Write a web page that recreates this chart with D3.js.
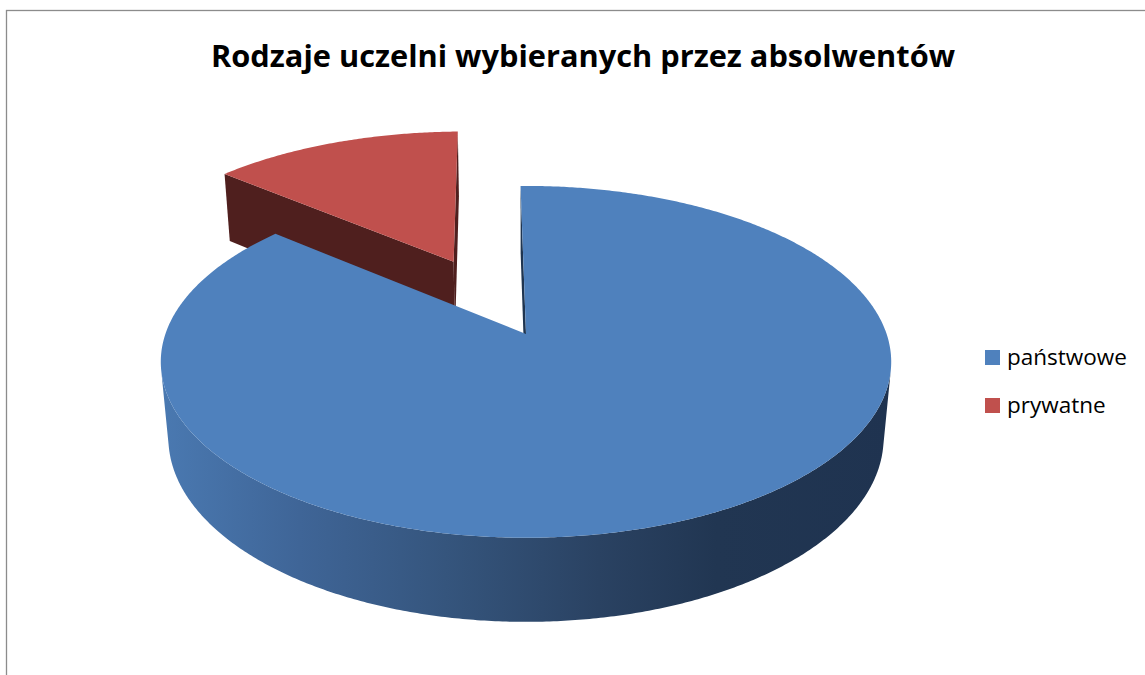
<!DOCTYPE html>
<html>
<head>
<meta charset="utf-8">
<script src="https://cdn.jsdelivr.net/npm/d3@7"></script>
<style>
  body { margin: 0; background: #fff; }
  text { font-family: "Open Sans", "Noto Sans", sans-serif; }
</style>
</head>
<body>
<script>
/* Data */
var categories = ["państwowe", "prywatne"];
var values = [86.4, 13.6];
var explode = [0, 0.5];          // explosion, in radius units
var topColors = ["#4F81BD", "#C0504D"];
var faceColors = ["#1F3550", "#4F1F1E"];
var sideStops = [
  ["#4A79B1", "#3F6597", "#35557D", "#2A4262", "#213652", "#1F3350"],
  ["#9A403D", "#7E3432", "#682A29", "#5A2423", "#4F1F1E", "#4F1F1E"]
];
var title = "Rodzaje uczelni wybieranych przez absolwentów";

/* Setup */
var width = 1145, height = 675;

var svg = d3.select("body")
    .append("svg")
    .attr("width", width)
    .attr("height", height);

// chart area border (goes past the right and bottom edges)
svg.append("rect")
    .attr("x", 6.5).attr("y", 10.5)
    .attr("width", 1200).attr("height", 700)
    .attr("fill", "#fff")
    .attr("stroke", "#8c8c8c")
    .attr("stroke-width", 1.3);

svg.append("text")
    .attr("x", 211).attr("y", 67)
    .attr("font-size", 31)
    .attr("font-weight", "bold")
    .attr("fill", "#000")
    .attr("textLength", 744)
    .attr("lengthAdjust", "spacingAndGlyphs")
    .text(title);

/* 3D projection of the pie */
var cx = 526, cy = 334;           // screen point of the pie centre
var F = 2005, D = 5.56, H = 0.242;
var tilt = 28.4 * Math.PI / 180;
var c = Math.cos(tilt), s = Math.sin(tilt);
var rot = -1 * Math.PI / 180;     // first slice starts just left of 12 o'clock

function proj(u, v, h) {
    var z = D - v * c - h * s;
    return [cx + F * u / z, cy + F * (v * s - h * c) / z];
}

var pie = d3.pie().sort(null)
    .startAngle(rot).endAngle(2 * Math.PI + rot)
    .value(function(d) { return d.value; });
var slices = pie(values.map(function(v, i) { return {name: categories[i], value: v, i: i}; }));

var line = d3.line();
var step = Math.PI / 360;

function arcPts(a0, a1, ou, ov, h) {
    var pts = [];
    var n = Math.max(2, Math.ceil((a1 - a0) / step));
    for (var k = 0; k <= n; k++) {
        var a = a0 + (a1 - a0) * k / n;
        pts.push(proj(ou + Math.sin(a), ov - Math.cos(a), h));
    }
    return pts;
}

// gradients for the outer walls
var defs = svg.append("defs");
var xl = cx - 365, xr = cx + 365;
sideStops.forEach(function(stops, i) {
    var g = defs.append("linearGradient")
        .attr("id", "side" + i)
        .attr("gradientUnits", "userSpaceOnUse")
        .attr("x1", xl).attr("x2", xr).attr("y1", 0).attr("y2", 0);
    var offs = [0, 0.19, 0.39, 0.6, 0.76, 1];
    stops.forEach(function(col, k) {
        g.append("stop").attr("offset", offs[k]).attr("stop-color", col);
    });
});

var pieG = svg.append("g").attr("class", "pie");

// back slices first (red is behind the blue one)
var order = slices.slice().sort(function(a, b) { return b.index - a.index; });

order.forEach(function(d) {
    var i = d.data.i;
    var mid = (d.startAngle + d.endAngle) / 2;
    var ou = explode[i] * Math.sin(mid), ov = -explode[i] * Math.cos(mid);
    var g = pieG.append("g").attr("class", "slice");

    // outer wall, only where it faces the camera
    var vis = [];
    var n = Math.ceil((d.endAngle - d.startAngle) / step);
    for (var k = 0; k <= n; k++) {
        var a = d.startAngle + (d.endAngle - d.startAngle) * k / n;
        var dot = -1 - ou * Math.sin(a) - (D * c - ov) * Math.cos(a);
        if (dot > 0) vis.push(a);
    }
    if (vis.length > 1) {
        var a0 = vis[0], a1 = vis[vis.length - 1];
        var wall = arcPts(a0, a1, ou, ov, 0).concat(arcPts(a0, a1, ou, ov, -H).reverse());
        g.append("path")
            .attr("d", line(wall) + "Z")
            .attr("fill", "url(#side" + i + ")");
    }

    // radial faces, only the ones turned towards the camera
    [[d.startAngle, -1], [d.endAngle, 1]].forEach(function(e) {
        var a = e[0];
        var nu = e[1] * Math.cos(a), nv = e[1] * Math.sin(a);
        var dot = nu * (-ou) + nv * (D * c - ov);
        if (dot < 0) return;
        var pts = [
            proj(ou, ov, 0),
            proj(ou + Math.sin(a), ov - Math.cos(a), 0),
            proj(ou + Math.sin(a), ov - Math.cos(a), -H),
            proj(ou, ov, -H)
        ];
        g.append("path")
            .attr("d", line(pts) + "Z")
            .attr("fill", faceColors[i]);
    });

    // top face
    var topPts = [proj(ou, ov, 0)].concat(arcPts(d.startAngle, d.endAngle, ou, ov, 0));
    g.append("path")
        .attr("d", line(topPts) + "Z")
        .attr("fill", topColors[i]);

    g.append("title").text(d.data.name + ": " + d.data.value);
});

/* Legend */
var legend = svg.append("g").attr("class", "legend");
var item = legend.selectAll("g")
    .data(categories)
    .enter()
    .append("g")
    .attr("transform", function(d, i) { return "translate(985," + (350 + i * 48) + ")"; });

item.append("rect")
    .attr("width", 15).attr("height", 15)
    .attr("fill", function(d, i) { return topColors[i]; });

item.append("text")
    .attr("x", 22).attr("y", 15)
    .attr("font-size", 22.5)
    .attr("fill", "#000")
    .text(function(d) { return d; });
</script>
</body>
</html>
